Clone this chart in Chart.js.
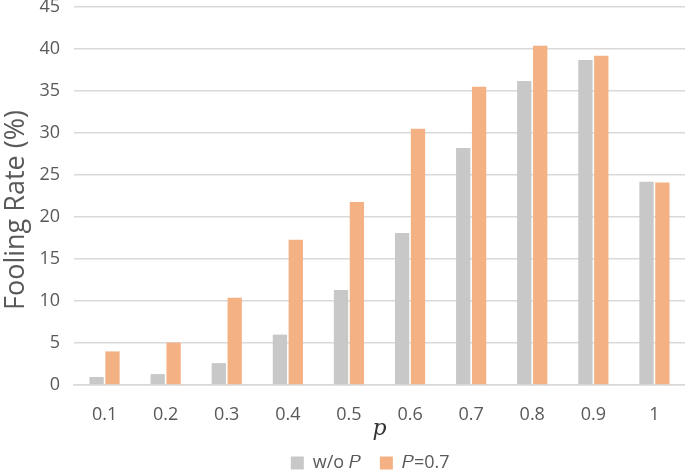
<!DOCTYPE html>
<html>
<head>
<meta charset="utf-8">
<script src="https://cdn.jsdelivr.net/npm/chart.js@4"></script>
<style>
  html, body { margin: 0; padding: 0; background: #fff; }
  #wrap { width: 685px; height: 476px; }
</style>
</head>
<body>
<div id="wrap"><canvas id="foolChart" width="685" height="476"></canvas></div>
<script>
var labels = ["0.1", "0.2", "0.3", "0.4", "0.5", "0.6", "0.7", "0.8", "0.9", "1"];
var withoutP = [0.95, 1.3, 2.6, 6.0, 11.3, 18.1, 28.2, 36.2, 38.7, 24.2];
var withP07 = [4.0, 5.05, 10.4, 17.3, 21.8, 30.5, 35.5, 40.4, 39.2, 24.1];
var yTicks = [0, 5, 10, 15, 20, 25, 30, 35, 40, 45];

var textColor = "#595959";
var fontFam = "'Open Sans', 'Noto Sans', sans-serif";

var ctx = document.getElementById('foolChart').getContext('2d');

var data = {
  labels: labels,
  datasets: [
    {
      label: "w/o \u{1D443}   ",
      data: withoutP,
      backgroundColor: "#c8c8c8",
      borderWidth: 0,
      barPercentage: 0.9,
      categoryPercentage: 0.52
    },
    {
      label: "\u{1D443}=0.7    ",
      data: withP07,
      backgroundColor: "#f4b183",
      borderWidth: 0,
      barPercentage: 0.9,
      categoryPercentage: 0.52
    }
  ]
};

var options = {
  responsive: false,
  animation: false,
  layout: { padding: { left: 0, right: 0, top: 7, bottom: -6 } },
  scales: {
    x: {
      afterFit: function(axis) {
        axis.height = 64;
        axis.paddingLeft = 0;
        axis.paddingRight = 0;
      },
      grid: { display: false, drawTicks: false },
      border: { display: true, color: "#d9d9d9", width: 1.5 },
      ticks: { color: textColor, font: { family: fontFam, size: 18 }, padding: 19 },
      title: {
        display: true,
        text: "\u{1D45D}",
        color: "#333",
        font: { family: "'DejaVu Serif', serif", size: 22, style: "italic" },
        padding: { top: 0, bottom: 7 }
      }
    },
    y: {
      min: 0,
      max: 45,
      afterBuildTicks: function(axis) {
        axis.ticks = yTicks.map(function(v) { return { value: v }; });
      },
      afterFit: function(axis) {
        axis.width = 74;
        axis.paddingTop = 0;
        axis.paddingBottom = 0;
      },
      grid: { color: "#d9d9d9", lineWidth: 1.5, drawTicks: false },
      border: { display: false },
      ticks: { color: textColor, font: { family: fontFam, size: 18 }, padding: 14 },
      title: {
        display: true,
        text: "Fooling Rate (%)    ",
        color: textColor,
        font: { family: fontFam, size: 27 },
        padding: { top: 0, bottom: 0 }
      }
    }
  },
  plugins: {
    legend: {
      display: true,
      position: "bottom",
      fullSize: false,
      labels: {
        color: textColor,
        font: { family: fontFam, size: 18 },
        boxWidth: 13,
        boxHeight: 13,
        padding: 5
      }
    },
    tooltip: { enabled: false }
  }
};

var myChart = new Chart(ctx, {
  type: 'bar',
  data: data,
  options: options
});
</script>
</body>
</html>
